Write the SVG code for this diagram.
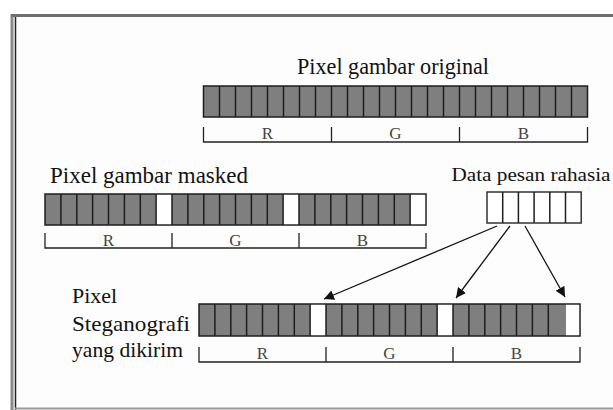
<svg xmlns="http://www.w3.org/2000/svg" width="613" height="410" viewBox="0 0 613 410">
<style>
.bar{fill:#7f7f7f;stroke:#1e1e1e;stroke-width:1.5}
.div{fill:none;stroke:#1e1e1e;stroke-width:1.5}
.wc{fill:#ffffff;stroke:none}
.br{fill:none;stroke:#222;stroke-width:1.3}
.t{font-family:"Liberation Serif","Times New Roman",serif;fill:#111}
.lab{font-family:"Liberation Serif","Times New Roman",serif;fill:#444;font-size:17px;text-anchor:middle}
.con{fill:none;stroke:#111;stroke-width:1.3}
</style>
<defs>
<marker id="ah" viewBox="0 0 10 10" refX="10" refY="5" markerWidth="10" markerHeight="10" markerUnits="userSpaceOnUse" orient="auto">
<path d="M0,0 L10,5 L0,10 z" fill="#111"/>
</marker>
</defs>
<rect x="0" y="0" width="613" height="410" fill="#ffffff"/>
<g id="frame">
<rect x="16" y="17" width="600" height="390" fill="#fdfdfd"/>
<line x1="12" y1="14" x2="12" y2="410" stroke="#8a8a8a" stroke-width="3"/>
<line x1="15.5" y1="16" x2="15.5" y2="410" stroke="#222" stroke-width="1.5"/>
<line x1="11" y1="15.5" x2="613" y2="15.5" stroke="#6e6e6e" stroke-width="3"/>
<line x1="15" y1="408.5" x2="613" y2="408.5" stroke="#9a9a9a" stroke-width="2"/>
</g>

<g id="original">
<text class="t" font-family="Liberation Serif, serif" x="393" y="74" font-size="23" text-anchor="middle" textLength="192" lengthAdjust="spacingAndGlyphs">Pixel gambar original</text>
<rect class="bar" x="203.5" y="86" width="384" height="31"/>
<path class="div" d="M219.5,86v31M235.5,86v31M251.5,86v31M267.5,86v31M283.5,86v31M299.5,86v31M315.5,86v31M331.5,86v31M347.5,86v31M363.5,86v31M379.5,86v31M395.5,86v31M411.5,86v31M427.5,86v31M443.5,86v31M459.5,86v31M475.5,86v31M491.5,86v31M507.5,86v31M523.5,86v31M539.5,86v31M555.5,86v31M571.5,86v31"/>
<path class="br" d="M203.5,127V142H587.5V127M331.5,127V142M459.5,127V142"/>
<text class="lab" x="267.5" y="139">R</text>
<text class="lab" x="395.5" y="139">G</text>
<text class="lab" x="523.5" y="139">B</text>
</g>

<g id="masked">
<text class="t" font-family="Liberation Serif, serif" x="50" y="183" font-size="23" textLength="198" lengthAdjust="spacingAndGlyphs">Pixel gambar masked</text>
<rect class="bar" x="45" y="194" width="381" height="31"/>
<rect class="wc" x="156.1" y="194.8" width="15.9" height="29.4"/>
<rect class="wc" x="283.1" y="194.8" width="15.9" height="29.4"/>
<rect class="wc" x="410.1" y="194.8" width="15.1" height="29.4"/>
<path class="div" d="M60.9,194v31M76.8,194v31M92.6,194v31M108.5,194v31M124.4,194v31M140.3,194v31M156.1,194v31M172,194v31M187.9,194v31M203.8,194v31M219.6,194v31M235.5,194v31M251.4,194v31M267.3,194v31M283.1,194v31M299,194v31M314.9,194v31M330.8,194v31M346.6,194v31M362.5,194v31M378.4,194v31M394.3,194v31M410.1,194v31"/>
<path class="br" d="M45,233V248H426V233M172,233V248M299,233V248"/>
<text class="lab" x="108.5" y="246">R</text>
<text class="lab" x="235.5" y="246">G</text>
<text class="lab" x="362.5" y="246">B</text>
</g>

<g id="secret">
<text class="t" font-family="Liberation Serif, serif" x="531" y="181" font-size="19" text-anchor="middle" textLength="159" lengthAdjust="spacingAndGlyphs">Data pesan rahasia</text>
<rect x="487" y="192" width="94.2" height="31" fill="#ffffff" stroke="#333" stroke-width="1.5"/>
<path class="div" stroke="#333" d="M502.7,192v31M518.4,192v31M534.1,192v31M549.8,192v31M565.5,192v31"/>
</g>

<g id="stego">
<text class="t" font-family="Liberation Serif, serif" x="72" y="303" font-size="22" textLength="45" lengthAdjust="spacingAndGlyphs">Pixel</text>
<text class="t" font-family="Liberation Serif, serif" x="72" y="331" font-size="22" textLength="118" lengthAdjust="spacingAndGlyphs">Steganografi</text>
<text class="t" font-family="Liberation Serif, serif" x="72" y="357" font-size="22" textLength="111" lengthAdjust="spacingAndGlyphs">yang dikirim</text>
<rect class="bar" x="199" y="304" width="381" height="32"/>
<rect class="wc" x="310.1" y="304.8" width="15.9" height="30.4"/>
<rect class="wc" x="437.1" y="304.8" width="15.9" height="30.4"/>
<rect class="wc" x="566" y="304.8" width="13.2" height="30.4"/>
<path class="div" d="M214.9,304v32M230.8,304v32M246.6,304v32M262.5,304v32M278.4,304v32M294.3,304v32M310.1,304v32M326,304v32M341.9,304v32M357.8,304v32M373.6,304v32M389.5,304v32M405.4,304v32M421.3,304v32M437.1,304v32M453,304v32M468.9,304v32M484.8,304v32M500.6,304v32M516.5,304v32M532.4,304v32M548.3,304v32"/>
<path class="br" d="M199,347V362H580V347M326,347V362M453,347V362"/>
<text class="lab" x="262.5" y="359">R</text>
<text class="lab" x="389.5" y="359">G</text>
<text class="lab" x="516.5" y="359">B</text>
</g>

<g id="connectors">
<line class="con" x1="497" y1="226" x2="324" y2="299" marker-end="url(#ah)"/>
<line class="con" x1="510" y1="226" x2="456" y2="298" marker-end="url(#ah)"/>
<line class="con" x1="525" y1="226" x2="565" y2="297" marker-end="url(#ah)"/>
</g>
</svg>
